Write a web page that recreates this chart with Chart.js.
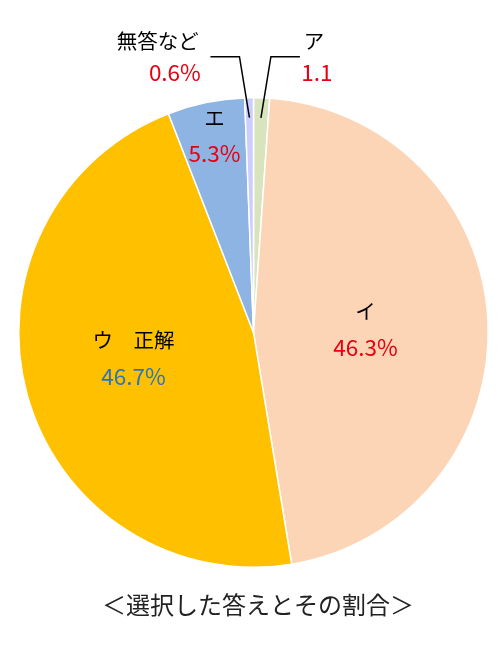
<!DOCTYPE html>
<html>
<head>
<meta charset="utf-8">
<script src="https://cdn.jsdelivr.net/npm/chart.js@4"></script>
<style>
  html, body { margin: 0; padding: 0; background: #fff; }
  #wrap { width: 500px; height: 660px; position: relative; }
</style>
</head>
<body>
<div id="wrap"><canvas id="pieChart"></canvas></div>
<script>
// 選択した答えとその割合
var answers = ['ア', 'イ', 'ウ　正解', 'エ', '無答など'];
var shares = [1.1, 46.3, 46.7, 5.3, 0.6];
var shareText = ['1.1', '46.3%', '46.7%', '5.3%', '0.6%'];
var sliceColors = ['#D7E4BD', '#FBD5B5', '#FFC000', '#8EB4E3', '#CCCCFF'];
var pctColors = ['#E60012', '#E60012', '#2E75B6', '#E60012', '#E60012'];

// ラベル位置（円の中心からのずれ, 半径に対する割合）
var labelSpots = [
    { x: 0.27, y: -1.175, outside: true },
    { x: 0.477, y: -0.013 },
    { x: -0.511, y: 0.111 },
    { x: -0.166, y: -0.838 },
    { x: -0.335, y: -1.175, outside: true }
];

var FONT = '"Noto Sans CJK JP", "Noto Sans", sans-serif';

// データラベルを描くプラグイン
var labelPlugin = {
    id: 'sliceLabels',
    afterDatasetsDraw(chart) {
        var ctx = chart.ctx;
        var meta = chart.getDatasetMeta(0);
        ctx.save();
        ctx.textAlign = 'center';
        ctx.textBaseline = 'middle';
        meta.data.forEach((arc, i) => {
            var p = arc.getProps(['x', 'y', 'startAngle', 'endAngle', 'outerRadius'], true);
            var R = p.outerRadius;
            var mid = (p.startAngle + p.endAngle) / 2;
            var spot = labelSpots[i];
            var lx = p.x + spot.x * R;
            var ly = p.y + spot.y * R;
            var gap = 18;
            if (spot.outside) {
                gap = 15.5;
                // 引出線
                var tip = p.x + Math.cos(mid) * 0.915 * R;
                var tipY = p.y + Math.sin(mid) * 0.915 * R;
                var dir = Math.cos(mid) > 0 ? 1 : -1;
                var elbowX = tip + dir * 10;
                var elbowY = ly;
                ctx.beginPath();
                ctx.moveTo(tip, tipY);
                ctx.lineTo(elbowX, elbowY);
                ctx.lineTo(elbowX + dir * 29, elbowY);
                ctx.strokeStyle = '#000';
                ctx.lineWidth = 1.5;
                ctx.stroke();
            }
            ctx.fillStyle = '#000';
            ctx.font = '20.5px ' + FONT;
            ctx.fillText(answers[i], lx + (i === 0 ? -3 : 0) + (i === 4 ? -17 : 0), ly - gap);
            ctx.fillStyle = pctColors[i];
            ctx.font = '22.5px ' + FONT;
            ctx.fillText(shareText[i], lx, ly + gap);
        });
        ctx.restore();
    }
};

// 下のタイトル
var captionPlugin = {
    id: 'caption',
    afterDraw(chart) {
        var ctx = chart.ctx;
        ctx.save();
        ctx.fillStyle = '#222';
        ctx.font = '24px ' + FONT;
        ctx.textAlign = 'center';
        ctx.textBaseline = 'middle';
        ctx.fillText('＜選択した答えとその割合＞', 258, 605);
        ctx.restore();
    }
};

var pieCtx = document.getElementById('pieChart').getContext('2d');
var pieChart = new Chart(pieCtx, {
    type: 'pie',
    data: {
        labels: answers,
        datasets: [{
            data: shares,
            backgroundColor: sliceColors,
            borderColor: '#fff',
            borderWidth: 1.5
        }]
    },
    options: {
        responsive: true,
        maintainAspectRatio: false,
        animation: false,
        rotation: 0,
        layout: {
            padding: { left: 18, right: 11, top: 97, bottom: 92 }
        },
        plugins: {
            legend: { display: false },
            tooltip: { enabled: false }
        }
    },
    plugins: [labelPlugin, captionPlugin]
});
</script>
</body>
</html>
